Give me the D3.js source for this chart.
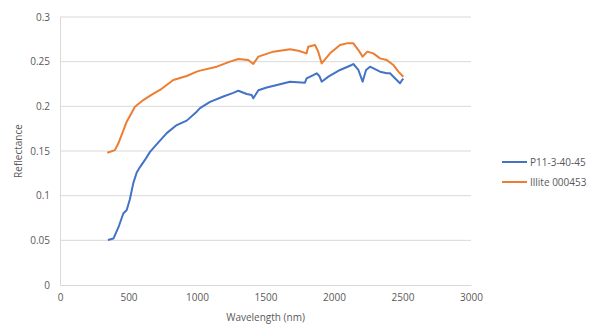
<!DOCTYPE html>
<html>
<head>
<meta charset="utf-8">
<script src="https://cdn.jsdelivr.net/npm/d3@7"></script>
<style>
  body { margin: 0; background: #fff; }
  text { font-family: "Open Sans", sans-serif; fill: #595959; }
</style>
</head>
<body>
<svg id="chart" width="593" height="326"></svg>
<script>
// P11-3-40-45 spectrum (wavelength nm, reflectance)
const p11Wave = [350, 390, 430, 462, 487, 510, 535, 560, 584, 620, 657, 720, 779, 852, 925, 998, 1022, 1095, 1192, 1265, 1302, 1363, 1399, 1411, 1448, 1509, 1606, 1679, 1788, 1800, 1849, 1873, 1893, 1910, 1959, 2044, 2129, 2141, 2178, 2209, 2234, 2263, 2336, 2385, 2409, 2445, 2482, 2495, 2506];
const p11Refl = [0.0504, 0.052, 0.066, 0.080, 0.084, 0.096, 0.114, 0.126, 0.132, 0.140, 0.149, 0.160, 0.170, 0.179, 0.184, 0.194, 0.198, 0.205, 0.211, 0.215, 0.2175, 0.2138, 0.2127, 0.209, 0.218, 0.221, 0.2247, 0.2276, 0.2265, 0.2314, 0.235, 0.237, 0.234, 0.2276, 0.2333, 0.2407, 0.2463, 0.2474, 0.2407, 0.2276, 0.2407, 0.2444, 0.2388, 0.237, 0.237, 0.2314, 0.2258, 0.229, 0.231];

// Illite 000453 spectrum
const illiteWave = [345, 401, 426, 455, 487, 547, 608, 670, 730, 827, 925, 998, 1022, 1144, 1241, 1302, 1374, 1411, 1448, 1557, 1679, 1740, 1800, 1812, 1861, 1885, 1910, 1971, 2044, 2093, 2141, 2178, 2209, 2243, 2287, 2336, 2385, 2433, 2470, 2506];
const illiteRefl = [0.148, 0.151, 0.1586, 0.170, 0.1828, 0.1996, 0.207, 0.213, 0.2183, 0.2295, 0.234, 0.2388, 0.240, 0.2444, 0.250, 0.253, 0.2519, 0.2474, 0.2556, 0.2612, 0.2638, 0.2623, 0.2593, 0.2668, 0.2687, 0.2612, 0.2481, 0.2593, 0.2687, 0.2705, 0.2705, 0.263, 0.2556, 0.2612, 0.2593, 0.2537, 0.2519, 0.2463, 0.2388, 0.2332];

const seriesNames = ['P11-3-40-45', 'Illite 000453'];
const seriesColors = ['#4472C4', '#ED7D31'];
const xTicks = [0, 500, 1000, 1500, 2000, 2500, 3000];
const yTicks = [0, 0.05, 0.1, 0.15, 0.2, 0.25, 0.3];

const svg = d3.select('#chart');
const margin = { top: 17, left: 60, right: 122, bottom: 41 };
const width = 593 - margin.left - margin.right;
const height = 326 - margin.top - margin.bottom;

const x = d3.scaleLinear().domain([0, 3000]).range([0, width]);
const y = d3.scaleLinear().domain([0, 0.3]).range([height, 0]);

const chart = svg.append('g').attr('transform', `translate(${margin.left},${margin.top})`);

// gridlines
chart.append('g')
  .selectAll('line')
  .data(yTicks.slice(1))
  .enter()
  .append('line')
  .attr('x1', 0).attr('x2', width)
  .attr('y1', d => y(d)).attr('y2', d => y(d))
  .attr('stroke', '#d9d9d9').attr('stroke-width', 1);

// axes
const xAxis = chart.append('g')
  .attr('transform', `translate(0,${height})`)
  .call(d3.axisBottom(x).tickValues(xTicks).tickSize(0).tickPadding(9).tickFormat(d3.format('d')));
xAxis.select('path.domain').attr('stroke', '#d9d9d9');
xAxis.selectAll('text').style('font-size', '10px');

const yAxis = chart.append('g')
  .call(d3.axisLeft(y).tickValues(yTicks).tickSize(0).tickPadding(10).tickFormat(d => d === 0 ? '0' : String(+d.toFixed(2))));
yAxis.select('path.domain').attr('stroke', '#d9d9d9');
yAxis.selectAll('text').style('font-size', '10px');

// series
const line = d3.line().x(d => x(d[0])).y(d => y(d[1]));
const series = [
  d3.zip(p11Wave, p11Refl),
  d3.zip(illiteWave, illiteRefl)
];
series.forEach((pts, i) => {
  chart.append('path')
    .datum(pts)
    .attr('fill', 'none')
    .attr('stroke', seriesColors[i])
    .attr('stroke-width', 2)
    .attr('stroke-linejoin', 'round')
    .attr('d', line);
});

// axis titles
svg.append('text')
  .attr('x', margin.left + x(1500))
  .attr('y', 321)
  .attr('text-anchor', 'middle')
  .style('font-size', '10px')
  .text('Wavelength (nm)');

svg.append('text')
  .attr('transform', `translate(22,${margin.top + height / 2}) rotate(-90)`)
  .attr('text-anchor', 'middle')
  .style('font-size', '10px')
  .text('Reflectance');

// legend
const legend = svg.append('g').attr('transform', 'translate(502,162)');
seriesNames.forEach((name, i) => {
  const g = legend.append('g').attr('transform', `translate(0,${i * 20})`);
  g.append('line').attr('x1', 0).attr('x2', 25).attr('y1', 0).attr('y2', 0)
    .attr('stroke', seriesColors[i]).attr('stroke-width', 2);
  g.append('text').attr('x', 28).attr('y', 0).attr('dy', '0.35em')
    .style('font-size', '10px').text(name);
});
</script>
</body>
</html>
